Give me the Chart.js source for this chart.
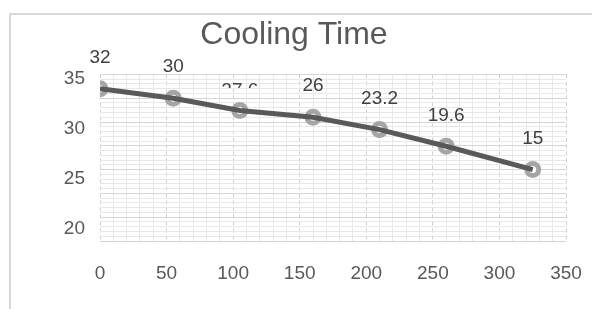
<!DOCTYPE html>
<html>
<head>
<meta charset="utf-8">
<script src="https://cdn.jsdelivr.net/npm/chart.js@4/dist/chart.umd.min.js"></script>
<style>
  html, body { margin: 0; padding: 0; background: #ffffff; overflow: hidden; }
  #wrap { position: relative; width: 592px; height: 309px; }
  #frame { position: absolute; left: 9px; top: 13px; width: 620px; height: 320px;
           border-left: 2px solid #d9d9d9; border-top: 2px solid #d9d9d9; z-index: 0; }
  canvas { position: absolute; left: 0; top: 0; z-index: 1; }
</style>
</head>
<body>
<div id="wrap">
  <div id="frame"></div>
  <canvas id="c" width="592" height="309"></canvas>
</div>
<script>
// ---- data ----
const xValues = [0, 55, 105, 160, 210, 260, 325];
const coolingTime = [33.5, 32.5, 31.2, 30.5, 29.2, 27.45, 25.0];
const pointLabels = ['32', '30', '27.6', '26', '23.2', '19.6', '15'];
const yTickLabels = [20, 25, 30, 35];
const xTickLabels = [0, 50, 100, 150, 200, 250, 300, 350];
const partlyHiddenLabel = 2;

const FONT = '"Liberation Sans", Arial, sans-serif';
const TEXT = '#595959';

const points = xValues.map((x, i) => ({ x: x, y: coolingTime[i] }));

const isMult = (v, m) => Math.abs(v / m - Math.round(v / m)) < 1e-6;

const labelPlugin = {
  id: 'pointLabels',
  afterDatasetsDraw(chart) {
    const meta = chart.getDatasetMeta(0);
    const ctx = chart.ctx;
    ctx.save();
    ctx.font = '19px ' + FONT;
    ctx.fillStyle = '#404040';
    ctx.textAlign = 'center';
    ctx.textBaseline = 'middle';
    meta.data.forEach((pt, i) => {
      if (i === partlyHiddenLabel) {
        ctx.save();
        ctx.beginPath();
        ctx.rect(pt.x - 40, pt.y - 60, 80, 60 - 22.5);
        ctx.clip();
        ctx.fillText(pointLabels[i], pt.x, pt.y - 20);
        ctx.restore();
      } else {
        ctx.fillText(pointLabels[i], pt.x, pt.y - 31);
      }
    });
    ctx.restore();
  }
};

new Chart(document.getElementById('c'), {
  type: 'scatter',
  data: {
    datasets: [
      {
        label: 'Cooling Time',
        data: points,
        showLine: true,
        borderColor: '#595959',
        borderWidth: 5,
        pointRadius: 0,
        pointHoverRadius: 0,
        fill: false,
        order: 0,
        yAxisID: 'y'
      },
      {
        label: 'markers',
        data: points,
        showLine: false,
        pointRadius: 6,
        pointBorderWidth: 5,
        pointBorderColor: '#a5a5a5',
        pointBackgroundColor: '#ffffff',
        order: 1,
        yAxisID: 'y'
      }
    ]
  },
  options: {
    responsive: false,
    animation: false,
    devicePixelRatio: 1,
    layout: { padding: { left: 0, right: 4, top: 0, bottom: 0 } },
    plugins: {
      legend: { display: false },
      tooltip: { enabled: false },
      title: {
        display: true,
        text: 'Cooling Time',
        color: TEXT,
        font: { family: FONT, size: 32, weight: 'normal', lineHeight: 1.2 },
        padding: { top: 16, bottom: 20 }
      }
    },
    scales: {
      x: {
        type: 'linear',
        min: 0,
        max: 350,
        ticks: {
          stepSize: 10,
          autoSkip: false,
          maxRotation: 0,
          padding: 0,
          color: TEXT,
          font: { family: FONT, size: 19 },
          callback: v => (xTickLabels.includes(v) ? String(v) : '')
        },
        grid: {
          drawTicks: true,
          tickLength: 21,
          tickColor: 'rgba(0,0,0,0)',
          lineWidth: 1,
          color: c => (c.tick && isMult(c.tick.value, 50)) ? '#cfcfcf' : '#e8e8e8'
        },
        border: {
          display: false,
          dash: c => (c.tick && isMult(c.tick.value, 50)) ? [4, 3] : []
        },
        afterFit: s => { s.height = 68; }
      },
      y: {
        type: 'linear',
        position: 'left',
        min: 17.5,
        max: 35,
        ticks: { display: false, stepSize: 0.5, autoSkip: false },
        grid: {
          drawTicks: false,
          lineWidth: 1,
          color: c => (c.tick && isMult(c.tick.value, 2.5)) ? '#d6d6d6' : '#e8e8e8'
        },
        border: { display: false },
        afterFit: s => { s.width = 0; }
      },
      yl: {
        type: 'linear',
        position: 'left',
        min: 18.8,
        max: 35.45,
        afterBuildTicks: s => { s.ticks = yTickLabels.map(v => ({ value: v })); },
        ticks: {
          padding: 15,
          autoSkip: false,
          color: TEXT,
          font: { family: FONT, size: 19 }
        },
        grid: { display: false, drawTicks: false },
        border: { display: false },
        afterFit: s => { s.width = 100; }
      },
      spacer: {
        type: 'linear',
        position: 'right',
        display: true,
        ticks: { display: false },
        grid: { display: false, drawTicks: false },
        border: { display: false },
        afterFit: s => { s.width = 22; }
      }
    }
  },
  plugins: [labelPlugin]
});
</script>
</body>
</html>
